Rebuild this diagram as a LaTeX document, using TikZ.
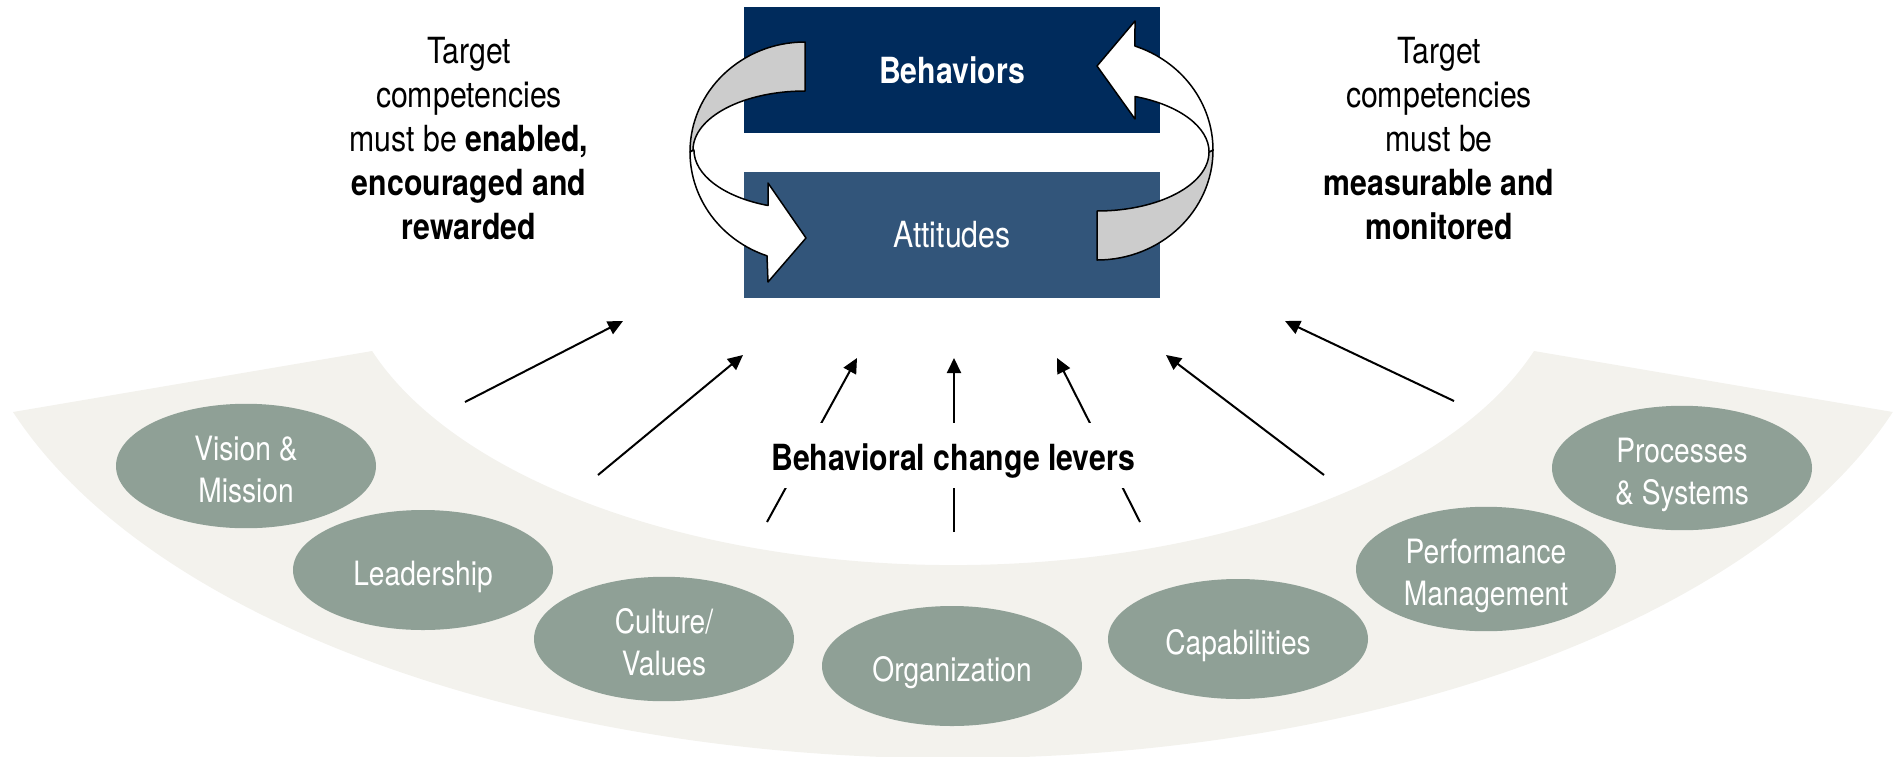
\documentclass[tikz,border=0pt]{standalone}
\usepackage{fontspec}
\setmainfont{TeX Gyre Heros}[FakeStretch=0.84]
\usetikzlibrary{shapes.geometric,arrows.meta}

\definecolor{navy}{RGB}{0,43,92}
\definecolor{slate}{RGB}{50,85,122}
\definecolor{sage}{RGB}{143,160,150}
\definecolor{sand}{RGB}{243,242,237}
\definecolor{ribbon}{RGB}{204,204,204}

% struts for the lever texts
\newcommand{\lvtop}{\rule{0pt}{19pt}}
\newcommand{\lvbot}{\rule[-4pt]{0pt}{4pt}}

\tikzset{
    stage/.style={rectangle, minimum width=208pt, minimum height=63pt, inner sep=0pt, text=white},
    lever/.style={ellipse, fill=sage, minimum width=130pt, minimum height=60pt, inner sep=0pt,
        text=white, align=center, font=\fontsize{16.75}{21}\selectfont},
    note/.style={align=center, font=\fontsize{18}{22}\selectfont},
    push/.style={line width=1pt, -{Triangle[length=7.5pt, width=7pt]}},
    loopband/.style={draw=black, line width=0.75pt, line join=round}
}

\begin{document}
\begin{tikzpicture}[x=0.5pt, y=-0.5pt]
        \useasboundingbox (0,0) rectangle (1901,756);

        % Band
        \fill[sand] (13,412) arc[start angle=161.56, end angle=18.44, x radius=990.8, y radius=506.3]
            -- (1534,351) arc[start angle=18.44, end angle=161.56, x radius=612.4, y radius=313] -- cycle;

        % Boxes
        \node[stage, fill=navy, font=\fontsize{18}{22}\selectfont\bfseries] at (952,70)  (behav) {Behaviors};
        \node[stage, fill=slate, font=\fontsize{18}{22}\selectfont] at (952,234.5) (attit) {Attitudes};

        % Left loop
        \filldraw[loopband, fill=ribbon] (805,42) arc[start angle=270, end angle=180, x radius=115, y radius=110]
            -- (693,150) arc[start angle=180, end angle=270, x radius=112, y radius=59] -- cycle;
        \filldraw[loopband, fill=white] (690,152) arc[start angle=180, end angle=109.3, x radius=115, y radius=110]
            -- (768,282) -- (806,238) -- (768,183)
            -- (768,205.5) arc[start angle=109.8, end angle=180, x radius=112, y radius=59] -- cycle;

        % Right loop
        \filldraw[loopband, fill=ribbon] (1097,260) arc[start angle=90, end angle=0, x radius=116, y radius=110]
            -- (1209,152) arc[start angle=0, end angle=90, x radius=112, y radius=59] -- cycle;
        \filldraw[loopband, fill=white] (1213,150) arc[start angle=360, end angle=289.1, x radius=116, y radius=110]
            -- (1135,21) -- (1097,66) -- (1135,119)
            -- (1135,96.5) arc[start angle=289.8, end angle=360, x radius=112, y radius=59] -- cycle;

        % Texts
        \node[note] at (469,139) (enable) {Target\\competencies\\must be \textbf{enabled,}\\\textbf{encouraged and}\\\textbf{rewarded}};
        \node[note] at (1439,139) (measure) {Target\\competencies\\must be\\\textbf{measurable and}\\\textbf{monitored}};

        % Lever arrows
        \coordinate (s1) at (465,402);   \coordinate (t1) at (623,321);
        \coordinate (s2) at (598,475);   \coordinate (t2) at (743,355);
        \coordinate (s3) at (767,522);   \coordinate (t3) at (857,358);
        \coordinate (s4) at (954,532);   \coordinate (t4) at (954,358);
        \coordinate (s5) at (1140,522);  \coordinate (t5) at (1057,358);
        \coordinate (s6) at (1324,475);  \coordinate (t6) at (1166,355);
        \coordinate (s7) at (1454,401);  \coordinate (t7) at (1285,321);

        \draw[push] (s1) -- (t1);
        \draw[push] (s2) -- (t2);
        \draw[push] (s3) -- (t3);
        \draw[push] (s4) -- (t4);
        \draw[push] (s5) -- (t5);
        \draw[push] (s6) -- (t6);
        \draw[push] (s7) -- (t7);

        \node[fill=white, minimum height=32.5pt, inner xsep=1pt, text height=19.3pt, text depth=3.8pt,
            font=\fontsize{18}{22}\selectfont\bfseries] at (953,455) (levers) {Behavioral change levers};

        % Levers
        \node[lever] at (246,466)  (vision)  {\lvtop Vision \&\\Mission\lvbot};
        \node[lever] at (423,570)  (leader)  {\lvtop Leadership\lvbot};
        \node[lever] at (664,639)  (culture) {\lvtop Culture/\\Values\lvbot};
        \node[lever] at (952,666)  (organ)   {\lvtop Organization\lvbot};
        \node[lever] at (1238,639) (capab)   {\lvtop Capabilities\lvbot};
        \node[lever] at (1486,569) (perform) {\lvtop Performance\\Management\lvbot};
        \node[lever] at (1682,468) (process) {\lvtop Processes\\\& Systems\lvbot};
\end{tikzpicture}
\end{document}
